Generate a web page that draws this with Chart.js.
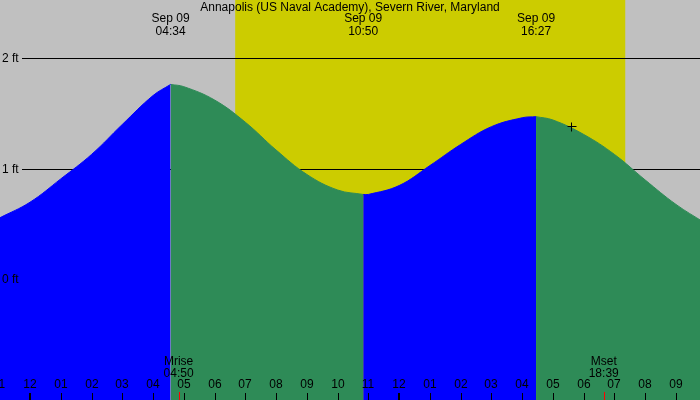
<!DOCTYPE html>
<html lang="en">
<head>
<meta charset="UTF-8">
<title>Tide chart</title>
<script src="https://cdn.jsdelivr.net/npm/chart.js"></script>
<style>
  body { margin: 0; background: #c0c0c0; }
  #wrap { width: 700px; height: 400px; }
</style>
</head>
<body>
<div id="wrap"><canvas id="tideChart" width="700" height="400"></canvas></div>
<script>
// hours from midnight Sep 09, tide height in ft
const risingHours1 = [-0.98, 0, 1, 2, 3, 4, 4.57];
const risingFeet1 = [0.56, 0.70, 0.91, 1.13, 1.40, 1.66, 1.76];
const fallingHours1 = [4.57, 5, 6, 7, 8, 9, 10, 10.83];
const fallingFeet1 = [1.76, 1.74, 1.62, 1.42, 1.17, 0.95, 0.81, 0.77];
const risingHours2 = [10.83, 11, 12, 13, 14, 15, 16, 16.45];
const risingFeet2 = [0.77, 0.77, 0.85, 1.03, 1.22, 1.38, 1.46, 1.47];
const fallingHours2 = [16.45, 17, 18, 19, 20, 21, 21.9];
const fallingFeet2 = [1.47, 1.44, 1.31, 1.13, 0.90, 0.68, 0.52];

const tickHours = [-1, 0, 1, 2, 3, 4, 5, 6, 7, 8, 9, 10, 11, 12, 13, 14, 15, 16, 17, 18, 19, 20, 21];
const tickLabels = ['11', '12', '01', '02', '03', '04', '05', '06', '07', '08', '09', '10', '11', '12', '01', '02', '03', '04', '05', '06', '07', '08', '09'];
const feetLines = [2, 1];
const feetLabels = ['2 ft', '1 ft'];
const zeroLabel = '0 ft';
const tideEvents = [
  { hour: 4.57, date: 'Sep 09', time: '04:34' },
  { hour: 10.83, date: 'Sep 09', time: '10:50' },
  { hour: 16.45, date: 'Sep 09', time: '16:27' }
];
const moonEvents = [
  { hour: 4.83, name: 'Mrise', time: '04:50' },
  { hour: 18.65, name: 'Mset', time: '18:39' }
];
const daylight = [6.67, 19.35];
const nowMark = { hour: 17.6, feet: 1.39 };
const title = 'Annapolis (US Naval Academy), Severn River, Maryland';

const toPoints = (xs, ys) => xs.map((x, i) => ({ x: x, y: ys[i] }));

const backdrop = {
  id: 'backdrop',
  beforeDatasetsDraw(chart) {
    const { ctx, scales: { x, y } } = chart;
    ctx.save();
    ctx.fillStyle = '#c0c0c0';
    ctx.fillRect(0, 0, chart.width, chart.height);
    ctx.fillStyle = '#cccc00';
    ctx.fillRect(x.getPixelForValue(daylight[0]), 0,
      x.getPixelForValue(daylight[1]) - x.getPixelForValue(daylight[0]), chart.height);
    ctx.strokeStyle = '#000';
    ctx.lineWidth = 1;
    ctx.fillStyle = '#000';
    ctx.font = '12px "Liberation Sans", Arial, sans-serif';
    ctx.textBaseline = 'middle';
    feetLines.forEach((f, i) => {
      const py = Math.round(y.getPixelForValue(f)) + 0.5;
      ctx.beginPath();
      ctx.moveTo(22, py);
      ctx.lineTo(chart.width, py);
      ctx.stroke();
      ctx.fillText(feetLabels[i], 2, py);
    });
    ctx.restore();
  },
  afterDatasetsDraw(chart) {
    const { ctx, scales: { x, y } } = chart;
    ctx.save();
    ctx.fillStyle = '#000';
    ctx.font = '12px "Liberation Sans", Arial, sans-serif';
    ctx.textBaseline = 'middle';
    ctx.fillText(zeroLabel, 2, y.getPixelForValue(0));
    ctx.textAlign = 'center';
    ctx.fillText(title, 350, 8);
    tideEvents.forEach(e => {
      const px = x.getPixelForValue(e.hour);
      ctx.fillText(e.date, px, 19);
      ctx.fillText(e.time, px, 32);
    });
    moonEvents.forEach(e => {
      const px = x.getPixelForValue(e.hour);
      ctx.fillText(e.name, px, 362);
      ctx.fillText(e.time, px, 374);
      ctx.strokeStyle = '#ff0000';
      ctx.beginPath();
      ctx.moveTo(Math.round(px) + 0.5, 392);
      ctx.lineTo(Math.round(px) + 0.5, 400);
      ctx.stroke();
    });
    ctx.strokeStyle = '#000';
    tickHours.forEach((h, i) => {
      const px = Math.round(x.getPixelForValue(h));
      ctx.fillText(tickLabels[i], px, 385);
      const thick = (h === 0 || h === 12);
      ctx.lineWidth = thick ? 2 : 1;
      ctx.beginPath();
      ctx.moveTo(px + (thick ? 0 : 0.5), 393);
      ctx.lineTo(px + (thick ? 0 : 0.5), 400);
      ctx.stroke();
    });
    // current time marker
    const mx = Math.round(x.getPixelForValue(nowMark.hour)) + 0.5;
    const my = Math.round(y.getPixelForValue(nowMark.feet)) + 0.5;
    ctx.lineWidth = 1;
    ctx.beginPath();
    ctx.moveTo(mx - 4, my); ctx.lineTo(mx + 5, my);
    ctx.moveTo(mx, my - 4); ctx.lineTo(mx, my + 5);
    ctx.stroke();
    ctx.restore();
  }
};

const ds = (xs, ys, color) => ({
  data: toPoints(xs, ys),
  backgroundColor: color,
  borderColor: color,
  borderWidth: 1,
  pointRadius: 0,
  fill: 'start',
  tension: 0.4
});

new Chart(document.getElementById('tideChart'), {
  type: 'line',
  data: {
    datasets: [
      ds(risingHours1, risingFeet1, '#0000ff'),
      ds(fallingHours1, fallingFeet1, '#2e8b57'),
      ds(risingHours2, risingFeet2, '#0000ff'),
      ds(fallingHours2, fallingFeet2, '#2e8b57')
    ]
  },
  options: {
    responsive: false,
    animation: false,
    layout: { padding: 0 },
    plugins: { legend: { display: false }, tooltip: { enabled: false } },
    scales: {
      x: { type: 'linear', min: -0.975, max: 21.78, display: false },
      y: { min: -1.08, max: 2.52, display: false }
    }
  },
  plugins: [backdrop]
});
</script>
</body>
</html>
